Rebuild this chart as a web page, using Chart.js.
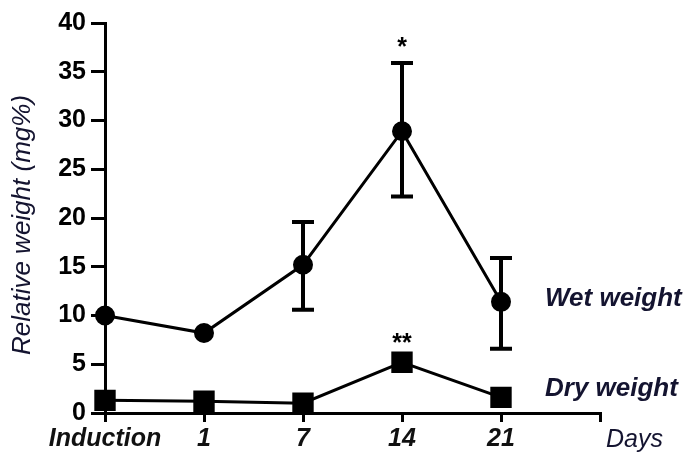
<!DOCTYPE html>
<html>
<head>
<meta charset="utf-8">
<script src="https://cdn.jsdelivr.net/npm/chart.js@4"></script>
<style>
  html, body { margin: 0; padding: 0; background: #fff; }
  #wrap { width: 697px; height: 455px; }
</style>
</head>
<body>
<div id="wrap"><canvas id="c" width="697" height="455"></canvas></div>
<script>
const dayLabels = ['Induction', '1', '7', '14', '21', ''];

// wet weight, mean and error bar ends
const wetMean = [10, 8.2, 15.2, 28.9, 11.4, null];
const wetLow  = [null, null, 10.6, 22.2, 6.6, null];
const wetHigh = [null, null, 19.6, 35.9, 15.9, null];

// dry weight
const dryMean = [1.3, 1.2, 1.0, 5.2, 1.6, null];

// significance marks: [index, y value, text]
const marks = [[3, 37.4, '*'], [3, 7.1, '**']];

const FONT = "'Liberation Sans', Arial, sans-serif";

// error bars under the points, texts on top
const errorBars = {
    id: 'errorBars',
    beforeDatasetsDraw(chart) {
        const ctx = chart.ctx, x = chart.scales.x, y = chart.scales.y;
        ctx.save();
        ctx.strokeStyle = '#000';
        ctx.lineWidth = 4;
        wetLow.forEach((lo, i) => {
            if (lo == null) return;
            const px = x.getPixelForValue(i);
            const y1 = y.getPixelForValue(lo), y2 = y.getPixelForValue(wetHigh[i]);
            ctx.beginPath();
            ctx.moveTo(px, y1); ctx.lineTo(px, y2);
            ctx.moveTo(px - 11, y1); ctx.lineTo(px + 11, y1);
            ctx.moveTo(px - 11, y2); ctx.lineTo(px + 11, y2);
            ctx.stroke();
        });
        ctx.restore();
    },
    afterDraw(chart) {
        const ctx = chart.ctx, x = chart.scales.x, y = chart.scales.y;
        ctx.save();
        ctx.fillStyle = '#000';
        ctx.textAlign = 'center';
        ctx.textBaseline = 'middle';
        ctx.font = 'bold 25px ' + FONT;
        marks.forEach(m => ctx.fillText(m[2], x.getPixelForValue(m[0]), y.getPixelForValue(m[1])));

        // series names on the right
        ctx.textAlign = 'left';
        ctx.fillStyle = '#141430';
        ctx.font = 'italic bold 26px ' + FONT;
        ctx.fillText('Wet weight', 545, 299);
        ctx.fillText('Dry weight', 545, 389);
        ctx.font = 'italic 25px ' + FONT;
        ctx.fillText('Days', 606, 440);

        // y axis title
        ctx.translate(23, 225);
        ctx.rotate(-Math.PI / 2);
        ctx.textAlign = 'center';
        ctx.font = 'italic 26px ' + FONT;
        ctx.fillText('Relative weight (mg%)', 0, 0);
        ctx.restore();
    }
};

new Chart(document.getElementById('c'), {
    type: 'line',
    data: {
        labels: dayLabels,
        datasets: [{
            label: 'Wet weight',
            data: wetMean,
            borderColor: '#000',
            backgroundColor: '#000',
            borderWidth: 3,
            pointStyle: 'circle',
            pointRadius: 8.5,
            tension: 0
        }, {
            label: 'Dry weight',
            data: dryMean,
            borderColor: '#000',
            backgroundColor: '#000',
            borderWidth: 3,
            pointStyle: 'rect',
            pointRadius: 13,
            tension: 0
        }]
    },
    options: {
        responsive: false,
        animation: false,
        layout: { padding: { left: 0, right: 97, top: 23, bottom: 0 } },
        plugins: { legend: { display: false }, tooltip: { enabled: false } },
        scales: {
            x: {
                offset: false,
                afterFit: s => { s.height = 42; },
                grid: { display: true, drawOnChartArea: false, drawTicks: true, tickLength: 9, color: '#000', lineWidth: 3 },
                border: { display: true, color: '#000', width: 3 },
                ticks: { color: '#111', font: { family: FONT, size: 25, style: 'italic', weight: 'bold' }, padding: 2, maxRotation: 0, autoSkip: false }
            },
            y: {
                min: 0,
                max: 40,
                afterFit: s => { s.width = 105; },
                grid: { display: true, drawOnChartArea: false, drawTicks: true, tickLength: 14, color: '#000', lineWidth: 3 },
                border: { display: true, color: '#000', width: 3 },
                ticks: { stepSize: 5, color: '#000', font: { family: FONT, size: 25, weight: 'bold' }, padding: 5 }
            }
        }
    },
    plugins: [errorBars]
});
</script>
</body>
</html>
